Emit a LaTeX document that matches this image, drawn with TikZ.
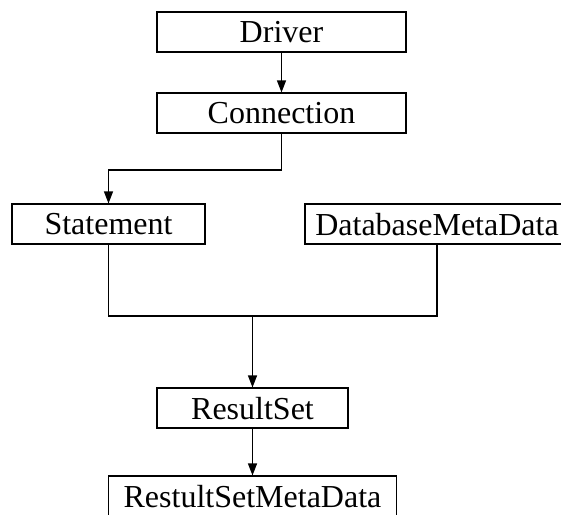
\documentclass[tikz,border=0pt]{standalone}
\usepackage{fontspec}
\setmainfont{Liberation Serif}
\usetikzlibrary{arrows.meta}
\begin{document}
\begin{tikzpicture}[x=1pt,y=-1pt,
  box/.style={draw, line width=1.1pt, inner sep=0pt, minimum height=40pt,
    font=\fontsize{32}{38}\selectfont, text depth=0pt, anchor=center},
  conn/.style={line width=1.1pt},
  arr/.style={conn, -{Triangle[length=12pt,width=9pt]}}]
\useasboundingbox (0,0) rectangle (561,514);
\clip (0,0) rectangle (561,514);
\node[box, minimum width=249pt] (drv) at (281.5,32) {Driver};
\node[box, minimum width=249pt] (con) at (281.5,113) {Connection};
\node[box, minimum width=193pt] (stm) at (108.5,224) {Statement};
\node[box, minimum width=264pt] (db) at (437,224) {DatabaseMetaData};
\node[box, minimum width=191pt] (rs) at (252.5,408) {ResultSet};
\node[box, minimum width=288pt] (rsmd) at (252.5,496) {RestultSetMetaData};
\coordinate (c1) at (281.5,170);
\coordinate (j) at (252.5,316);
\draw[arr] (drv) -- (con);
\draw[arr] (con.south) -- (c1) -| (stm.north);
\draw[conn] (stm.south) |- (j) -| (db.south);
\draw[arr] (j) -- (rs.north);
\draw[arr] (rs) -- (rsmd);
\end{tikzpicture}
\end{document}
